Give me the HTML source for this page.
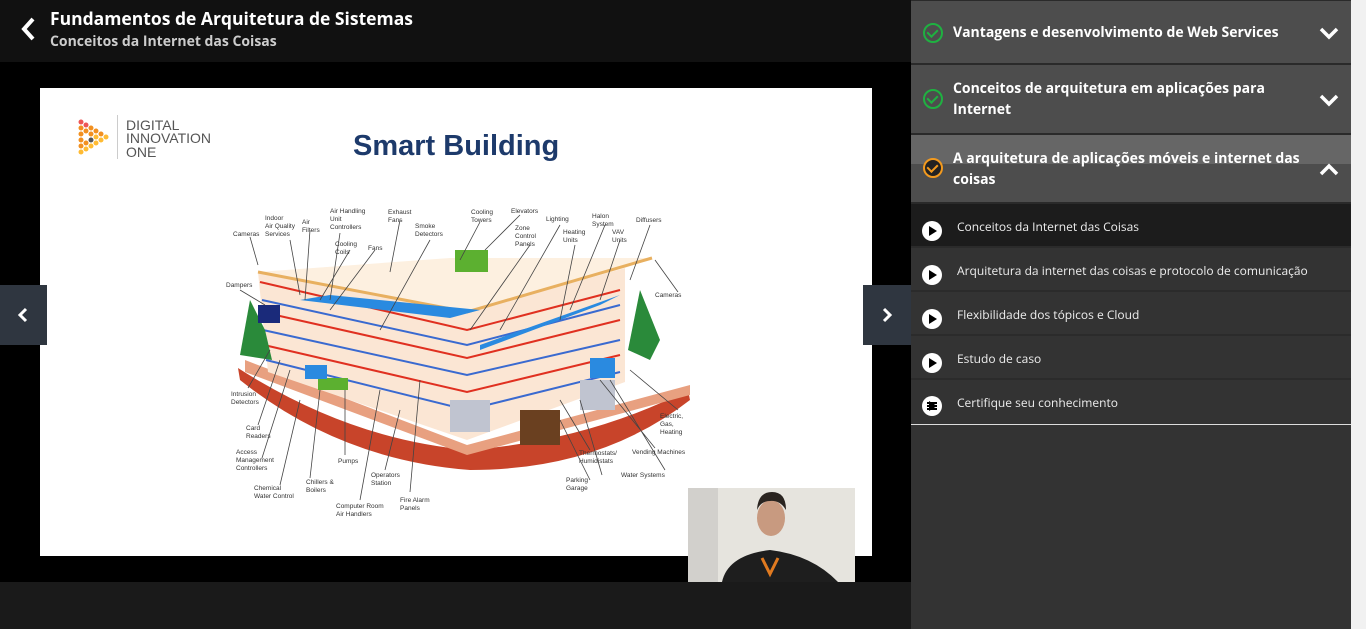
<!DOCTYPE html>
<html><head><meta charset="utf-8"><style>
*{margin:0;padding:0;box-sizing:border-box}
body{width:1366px;height:629px;overflow:hidden;background:#000;font-family:"Open Sans","Liberation Sans",sans-serif;position:relative}
.hdr{position:absolute;left:0;top:0;width:911px;height:62px;background:#111}
.hdr .t{position:absolute;left:50px;top:7px;color:#fff;font-size:17.5px;font-weight:bold}
.hdr .s{position:absolute;left:50px;top:32px;color:#ccc;font-size:14px;font-weight:bold}
.video{position:absolute;left:0;top:62px;width:911px;height:520px;background:#000}
.bot{position:absolute;left:0;top:582px;width:911px;height:47px;background:#1a1a1a}
.slide{position:absolute;left:40px;top:88px;width:832px;height:468px;background:#fff}
.nav{position:absolute;top:285px;width:47px;height:60px;background:#2f3640}
.side{position:absolute;left:911px;top:0;width:440px;height:629px;background:#333}
.scroll{position:absolute;left:1351px;top:0;width:15px;height:629px;background:#f1f1f1}
.sec{position:absolute;left:0;width:440px;background:#4d4d4d;border-bottom:2px solid #2a2a2a;color:#fff;font-weight:bold;font-size:14px;line-height:21px}
.sec .tx{position:absolute;left:42px}
.chk{position:absolute;left:12px;width:20px;height:20px;border:2.5px solid #1fb141;border-radius:50%}
.chk:after{content:"";position:absolute;left:4px;top:2px;width:5px;height:8px;border-right:2.5px solid #1fb141;border-bottom:2.5px solid #1fb141;transform:rotate(45deg)}
.chk.o{border-color:#f39a1e}.chk.o:after{border-color:#f39a1e}
.chev{position:absolute;right:12px;color:#fff;font-size:18px}
.item{position:absolute;left:0;width:440px;height:44px;background:#333;border-bottom:2px solid #2b2b2b;color:#eee;font-size:12px}
.item .tx{position:absolute;left:46px;top:14px}
.dot{position:absolute;left:11px;top:21px;width:20px;height:20px;border-radius:50%;background:#fff}
.dot:after{content:"";position:absolute;left:7px;top:5px;border-left:8px solid #000;border-top:5px solid transparent;border-bottom:5px solid transparent}
</style></head><body>
<div class="hdr">
<svg style="position:absolute;left:20px;top:17px" width="16" height="24"><path d="M13 2 L4 12 L13 22" stroke="#fff" stroke-width="4" fill="none"/></svg>
<div class="t">Fundamentos de Arquitetura de Sistemas</div>
<div class="s">Conceitos da Internet das Coisas</div>
</div>
<div class="video"></div>
<div class="bot"></div>
<div class="slide"></div>
<svg style="position:absolute;left:0;top:0" width="911" height="629">
<g font-family="Liberation Sans" font-size="16" fill="#555">
<g fill="#f29020"><circle cx="81" cy="122" r="2.5" fill="#e55"/><circle cx="86" cy="125" r="2.5" fill="#e55"/><circle cx="91" cy="128" r="2.5"/><circle cx="96" cy="131" r="2.5"/><circle cx="101" cy="134" r="2.5"/><circle cx="81" cy="128" r="2.5"/><circle cx="81" cy="134" r="2.5"/><circle cx="81" cy="140" r="2.5"/><circle cx="81" cy="146" r="2.5"/><circle cx="81" cy="152" r="2.5" fill="#fb3"/><circle cx="86" cy="131" r="2.5"/><circle cx="86" cy="143" r="2.5"/><circle cx="86" cy="149" r="2.5" fill="#fb3"/><circle cx="91" cy="134" r="2.5"/><circle cx="91" cy="146" r="2.5" fill="#fb3"/><circle cx="96" cy="137" r="2.5" fill="#fb3"/><circle cx="96" cy="143" r="2.5" fill="#fb3"/><circle cx="101" cy="140" r="2.5" fill="#fb3"/><circle cx="106" cy="137" r="2.5" fill="#fb3"/><circle cx="91" cy="140" r="2.5" fill="#555"/></g>
<rect x="117" y="115" width="1" height="44" fill="#ccc"/>
<text x="126" y="130" font-size="14">DIGITAL</text><text x="126" y="143" font-size="14">INNOVATION</text><text x="126" y="157" font-size="14">ONE</text>
<text x="353" y="155" font-size="29" font-weight="bold" fill="#1d3a6b">Smart Building</text>
</g>
<path d="M238 368 Q350 440 470 450 Q590 440 688 390 L690 400 Q600 470 470 470 Q340 460 240 380Z" fill="#c8442a"/>
<path d="M245 360 L467 445 L690 385 L690 395 L467 455 L245 372Z" fill="#e8a080"/>
<path d="M258 272 L467 312 L625 268 L625 382 L467 440 L268 372Z" fill="#fbe6d4"/>
<path d="M258 272 L450 258 L652 258 L625 268 L467 312Z" fill="#fdf0e0"/>
<path d="M258 272 L467 312 L652 258" stroke="#e8b060" stroke-width="3" fill="none"/>
<g stroke="#e03020" stroke-width="2" fill="none"><path d="M260 282 L467 330 L620 290"/><path d="M262 312 L467 358 L620 320"/><path d="M264 345 L467 392 L620 355"/></g>
<g stroke="#3a6ad0" stroke-width="2" fill="none"><path d="M262 300 L467 345 L620 305"/><path d="M263 330 L467 375 L620 340"/><path d="M266 360 L467 410 L620 372"/></g>
<path d="M300 300 L450 318 L480 310 L330 295Z" fill="#2a8ae0"/>
<path d="M480 345 L620 295 L600 305 L480 350Z" fill="#2a8ae0"/>
<rect x="455" y="250" width="33" height="22" fill="#5cb030"/>
<rect x="318" y="378" width="30" height="12" fill="#5cb030"/>
<rect x="520" y="410" width="40" height="35" fill="#6a4020"/>
<path d="M240 355 L250 300 L265 330 L272 360Z" fill="#2a8a3a"/><path d="M628 350 L640 290 L660 340 L650 360Z" fill="#2a8a3a"/>
<rect x="258" y="305" width="22" height="18" fill="#1a2a7a"/>
<rect x="450" y="400" width="40" height="32" fill="#c0c4d0"/><rect x="580" y="380" width="35" height="30" fill="#c0c4d0"/>
<rect x="590" y="358" width="25" height="20" fill="#2a8ae0"/><rect x="305" y="365" width="22" height="14" fill="#2a8ae0"/>
<g stroke="#444" stroke-width="0.8"><path d="M250 237 L258 265M290 240 L300 295M310 230 L305 300M340 233 L330 300M350 250 L320 300M375 250 L330 310M400 220 L390 272M430 240 L380 330M480 222 L460 260M520 215 L485 250M530 245 L470 330M560 225 L500 330M575 245 L560 320M605 225 L570 310M620 240 L600 300M650 225 L630 280M655 260 L678 292M240 290 L265 305M248 388 L270 350M258 425 L280 360M262 458 L290 370M280 485 L300 400M310 478 L320 390M345 455 L345 390M360 500 L380 390M385 470 L400 410M410 492 L420 380M590 450 L560 400M602 475 L580 400M655 448 L600 380M665 470 L610 380M678 410 L630 370M590 480 L560 420"/></g>
<g font-family="Liberation Sans" font-size="6.5" fill="#333">
<text x="233" y="236">Cameras</text><text x="265" y="220">Indoor</text><text x="265" y="228">Air Quality</text><text x="265" y="236">Services</text><text x="302" y="224">Air</text><text x="302" y="232">Filters</text><text x="330" y="213">Air Handling</text><text x="330" y="221">Unit</text><text x="330" y="229">Controllers</text><text x="335" y="246">Cooling</text><text x="335" y="254">Coils</text><text x="368" y="250">Fans</text><text x="388" y="214">Exhaust</text><text x="388" y="222">Fans</text><text x="415" y="228">Smoke</text><text x="415" y="236">Detectors</text><text x="471" y="214">Cooling</text><text x="471" y="222">Towers</text><text x="511" y="213">Elevators</text><text x="515" y="230">Zone</text><text x="515" y="238">Control</text><text x="515" y="246">Panels</text><text x="546" y="221">Lighting</text><text x="563" y="234">Heating</text><text x="563" y="242">Units</text><text x="592" y="218">Halon</text><text x="592" y="226">System</text><text x="612" y="234">VAV</text><text x="612" y="242">Units</text><text x="636" y="222">Diffusers</text><text x="226" y="287">Dampers</text><text x="655" y="297">Cameras</text><text x="231" y="396">Intrusion</text><text x="231" y="404">Detectors</text><text x="246" y="430">Card</text><text x="246" y="438">Readers</text><text x="236" y="454">Access</text><text x="236" y="462">Management</text><text x="236" y="470">Controllers</text><text x="254" y="490">Chemical</text><text x="254" y="498">Water Control</text><text x="306" y="484">Chillers &amp;</text><text x="306" y="492">Boilers</text><text x="338" y="463">Pumps</text><text x="371" y="477">Operators</text><text x="371" y="485">Station</text><text x="336" y="508">Computer Room</text><text x="336" y="516">Air Handlers</text><text x="400" y="502">Fire Alarm</text><text x="400" y="510">Panels</text><text x="579" y="455">Thermostats/</text><text x="579" y="463">Humidistats</text><text x="566" y="482">Parking</text><text x="566" y="490">Garage</text><text x="632" y="454">Vending Machines</text><text x="621" y="477">Water Systems</text><text x="660" y="418">Electric,</text><text x="660" y="426">Gas,</text><text x="660" y="434">Heating</text>
</g>
<rect x="688" y="488" width="167" height="94" fill="#e6e4de"/>
<rect x="688" y="488" width="30" height="94" fill="#d2d0cc"/>
<path d="M722 582 Q728 555 770 550 Q812 555 838 582Z" fill="#1e1e1e"/>
<ellipse cx="771" cy="518" rx="14" ry="18" fill="#c89a80"/>
<path d="M757 510 Q758 492 772 492 Q786 492 786 510 Q780 500 770 501 Q761 501 757 510Z" fill="#2a2420"/>
<path d="M762 558 L770 574 L778 558" stroke="#e07a20" stroke-width="3" fill="none"/>
</svg>
<div class="nav" style="left:0"><svg style="position:absolute;left:17px;top:22px" width="12" height="16"><path d="M9 2 L3 8 L9 14" stroke="#fff" stroke-width="3" fill="none"/></svg></div>
<div class="nav" style="left:863px;width:48px"><svg style="position:absolute;left:18px;top:22px" width="12" height="16"><path d="M3 2 L9 8 L3 14" stroke="#fff" stroke-width="3" fill="none"/></svg></div>

<div class="side">
<div class="sec" style="top:0;height:65px;border-top:1px solid #2a2a2a"><div class="chk" style="top:22px"></div><div class="tx" style="top:21px">Vantagens e desenvolvimento de Web Services</div><svg class="chev" style="top:25px" width="20" height="14"><path d="M2 3 L10 11 L18 3" stroke="#fff" stroke-width="3.5" fill="none"/></svg></div>
<div class="sec" style="top:65px;height:70px"><div class="chk" style="top:24px"></div><div class="tx" style="top:13px">Conceitos de arquitetura em aplicações para<br>Internet</div><svg class="chev" style="top:28px" width="20" height="14"><path d="M2 3 L10 11 L18 3" stroke="#fff" stroke-width="3.5" fill="none"/></svg></div>
<div class="sec" style="top:135px;height:69px;background:linear-gradient(#666 0,#666 29px,#4d4d4d 29px)"><div class="chk o" style="top:23px;background:#222"></div><div class="tx" style="top:13px">A arquitetura de aplicações móveis e internet das<br>coisas</div><svg class="chev" style="top:28px" width="20" height="14"><path d="M2 11 L10 3 L18 11" stroke="#fff" stroke-width="3.5" fill="none"/></svg></div>
<div style="position:absolute;left:19px;top:204px;width:4px;height:200px;background:#ccc"></div>
<div class="item" style="top:204px;background:#1c1c1c"><div class="dot" style="top:17px"></div><div class="tx" style="top:14px">Conceitos da Internet das Coisas</div></div>
<div class="item" style="top:248px"><div class="dot" style="top:17px"></div><div class="tx">Arquitetura da internet das coisas e protocolo de comunicação</div></div>
<div class="item" style="top:292px"><div class="dot" style="top:17px"></div><div class="tx">Flexibilidade dos tópicos e Cloud</div></div>
<div class="item" style="top:336px"><div class="dot" style="top:17px"></div><div class="tx">Estudo de caso</div></div>
<div class="item" style="top:380px;border-bottom:1px solid #ddd;height:45px"><div class="dot" style="top:16px;background:#fff"></div><div style="position:absolute;left:16px;top:22px;width:10px;height:8px;border-top:2px solid #000;border-bottom:2px solid #000"></div><div style="position:absolute;left:16px;top:25px;width:10px;height:2px;background:#000"></div><div class="tx">Certifique seu conhecimento</div></div>
</div>
<div class="scroll"></div>
</body></html>
